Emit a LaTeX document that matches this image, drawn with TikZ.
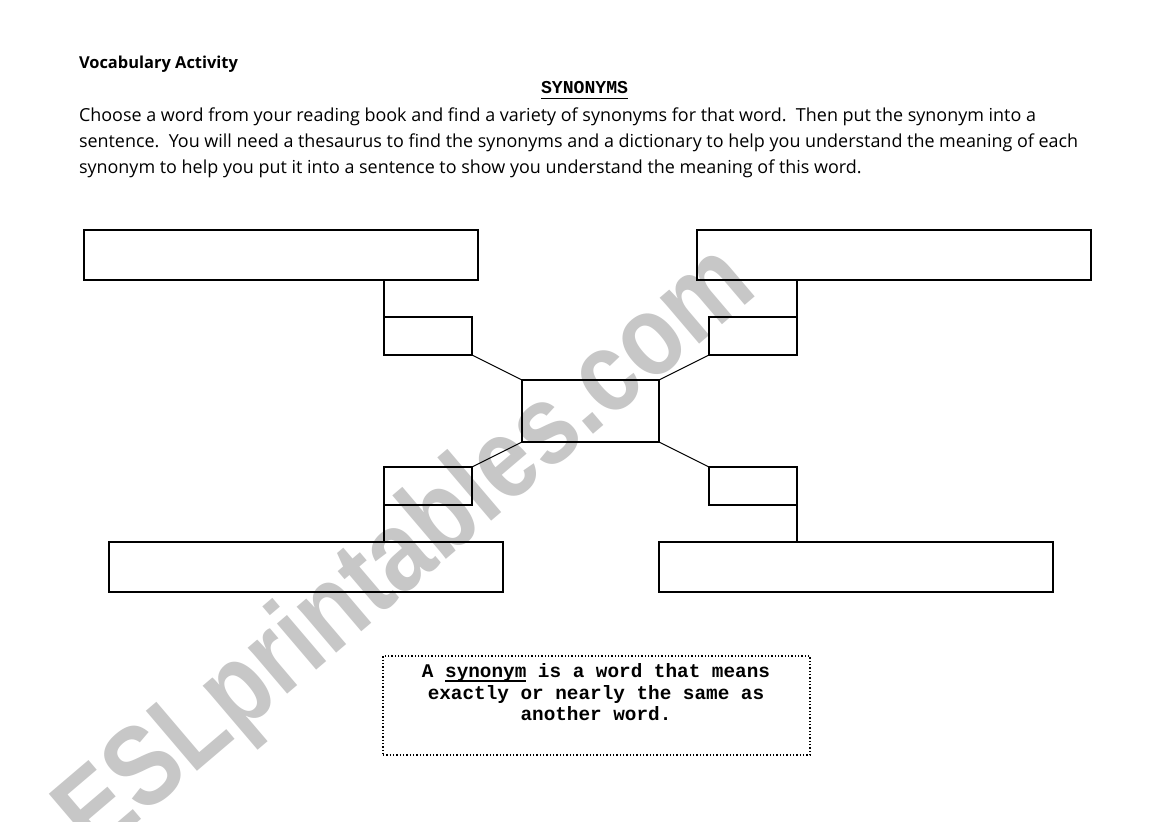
\documentclass[tikz,border=0pt]{standalone}
\usepackage{fontspec}
\setmainfont{Open Sans}
\newfontfamily\monof{Liberation Mono}
\newfontfamily\wmf{Liberation Sans}
\newlength\Lw
\newlength\Tw
\newcommand\myul[1]{\setbox0\hbox{#1}\rlap{\rule[-3.4pt]{\wd0}{1.3pt}}#1}
\AtBeginDocument{%
  \settowidth\Lw{\normalfont\fontsize{10pt}{12pt}\selectfont Choose a word from your reading book and find a variety of synonyms for that word.\ \ Then put the synonym into a}%
  \global\Lw=\Lw
  \settowidth\Tw{\normalfont\bfseries\fontsize{10pt}{12pt}\selectfont Vocabulary Activity}%
  \global\Tw=\Tw
  \pgfmathsetmacro\bszz{10*717.75/\Lw}\xdef\bsz{\bszz}%
  \pgfmathsetmacro\tszz{10*119.25/\Tw}\xdef\tsz{\tszz}%
}
\begin{document}
\begin{tikzpicture}[x=0.75pt,y=-0.75pt,
  box/.style={draw, line width=1pt, inner sep=0pt, outer sep=0pt},
  bigbox/.style={box, minimum width=295.5pt, minimum height=37.5pt},
  smallbox/.style={box, minimum width=66pt, minimum height=28.5pt},
  link/.style={line width=0.7pt},
  txt/.style={anchor=base west, inner sep=0pt, outer sep=0pt},
  mono/.style={anchor=base, inner sep=0pt, font=\monof\bfseries\fontsize{14.5pt}{16pt}\selectfont}]
\useasboundingbox (0,0) rectangle (1169,821);
\fill[white] (0,0) rectangle (1169,821);
% watermark
\node[rotate=40.4, xscale=0.84, text=black!22, inner sep=0pt, font=\wmf\bfseries\fontsize{86pt}{86pt}\selectfont] (wm) at (408,553) {ESLprintables.com};
% heading
\node[txt, font=\bfseries\fontsize{\tsz pt}{\tsz pt}\selectfont] (title) at (79,68.3) {Vocabulary Activity};
\node[txt, font=\monof\bfseries\fontsize{13.6pt}{14pt}\selectfont] (syn) at (541,93.3) {SYNONYMS};
\path (syn.base west) ++(0,5.2) coordinate (ula);
\path (syn.base east) ++(0,5.2) coordinate (ulb);
\draw[line width=1.4pt] (ula) -- (ulb);
\node[txt, font=\fontsize{\bsz pt}{\bsz pt}\selectfont] (l1) at (79,121.7) {Choose a word from your reading book and find a variety of synonyms for that word.\ \ Then put the synonym into a};
\node[txt, font=\fontsize{\bsz pt}{\bsz pt}\selectfont] (l2) at (79,147.3) {sentence.\ \ You will need a thesaurus to find the synonyms and a dictionary to help you understand the meaning of each};
\node[txt, font=\fontsize{\bsz pt}{\bsz pt}\selectfont] (l3) at (79,173) {synonym to help you put it into a sentence to show you understand the meaning of this word.};
% boxes
\node[bigbox] (tlb) at (281,255) {};
\node[bigbox] (trb) at (894,255) {};
\node[bigbox] (blb) at (306,567) {};
\node[bigbox] (brb) at (856,567) {};
\node[smallbox] (tls) at (428,336) {};
\node[smallbox] (trs) at (753,336) {};
\node[smallbox] (bls) at (428,486) {};
\node[smallbox] (brs) at (753,486) {};
\node[box, minimum width=102.75pt, minimum height=46.5pt] (c) at (590.5,411) {};
% connectors
\draw[box] (tls.north west) -- (tls.north west |- tlb.south);
\draw[box] (trs.north east) -- (trs.north east |- trb.south);
\draw[box] (bls.south west) -- (bls.south west |- blb.north);
\draw[box] (brs.south east) -- (brs.south east |- brb.north);
\draw[link] (tls.south east) -- (c.north west);
\draw[link] (trs.south west) -- (c.north east);
\draw[link] (bls.north east) -- (c.south west);
\draw[link] (brs.north west) -- (c.south east);
% definition box
\node[draw, line width=1pt, dash pattern=on 1.1pt off 1.4pt, inner sep=0pt, minimum width=320.25pt, minimum height=74.25pt] (def) at (596.5,705.5) {};
\node[mono] (d1) at (596,677.3) {A \myul{synonym} is a word that means};
\node[mono] (d2) at (596,699.3) {exactly or nearly the same as};
\node[mono] (d3) at (596,720.5) {another word.};
\end{tikzpicture}
\end{document}
